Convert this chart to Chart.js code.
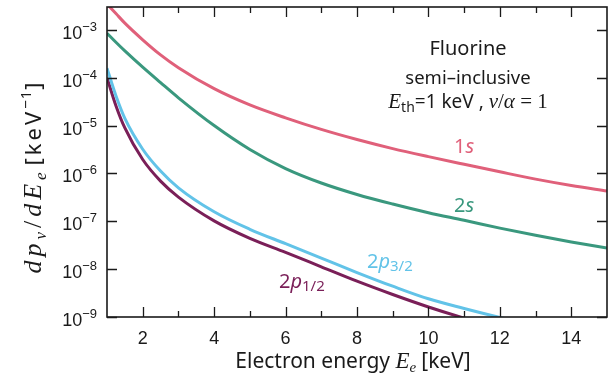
<!DOCTYPE html>
<html>
<head>
<meta charset="utf-8">
<script src="https://cdn.jsdelivr.net/npm/chart.js@4.4.1/dist/chart.umd.min.js"></script>
<style>
  html, body { margin: 0; padding: 0; background: #ffffff; }
  #wrap { width: 611px; height: 386px; }
</style>
</head>
<body>
<div id="wrap"><canvas id="c" width="611" height="386"></canvas></div>
<script>
// Electron energy grid [keV]
const energy = [1, 1.25, 1.5, 2, 2.5, 3, 4, 5, 6, 7, 8, 9, 10, 11, 12, 13, 14, 15];

// dp_v/dE_e [keV^-1] for each fluorine shell
const shell1s   = [3.47e-3, 2.19e-3, 1.38e-3, 6.2e-4, 3.0e-4, 1.62e-4, 5.9e-5, 2.7e-5, 1.45e-5, 8.3e-6, 5.1e-6, 3.3e-6, 2.24e-6, 1.55e-6, 1.08e-6, 7.6e-7, 5.6e-7, 4.3e-7];
const shell2s   = [8.5e-4, 5.5e-4, 3.63e-4, 1.66e-4, 7.9e-5, 3.8e-5, 1.0e-5, 3.16e-6, 1.26e-6, 6.3e-7, 3.63e-7, 2.29e-7, 1.51e-7, 1.05e-7, 7.2e-8, 5.1e-8, 3.7e-8, 2.75e-8];
const shell2p32 = [1.58e-4, 4.2e-5, 1.41e-5, 3.2e-6, 1.12e-6, 5.0e-7, 1.58e-7, 6.8e-8, 3.4e-8, 1.70e-8, 8.5e-9, 4.4e-9, 2.4e-9, 1.51e-9, 9.8e-10, 6.6e-10, 4.6e-10, 3.2e-10];
const shell2p12 = [1.0e-4, 2.6e-5, 8.9e-6, 1.95e-6, 6.9e-7, 3.2e-7, 1.02e-7, 4.4e-8, 2.24e-8, 1.12e-8, 5.6e-9, 2.95e-9, 1.62e-9, 9.5e-10, 6.0e-10, 4.1e-10, 2.8e-10, 2.0e-10];

// Axis ticks
const xTicks = [2, 3, 4, 5, 6, 7, 8, 9, 10, 11, 12, 13, 14];
const yTickExponents = [-9, -8, -7, -6, -5, -4, -3];

const COLORS = {
  s1: '#e0607a',
  s2: '#3a987e',
  p32: '#62c3e8',
  p12: '#7a1f58'
};
const INK = '#1a1a1a';

function series(values) {
  return energy.map((e, i) => ({ x: e, y: values[i] }));
}

function lineDataset(label, values, color) {
  return {
    label: label,
    data: series(values),
    borderColor: color,
    backgroundColor: color,
    borderWidth: 3,
    pointRadius: 0,
    cubicInterpolationMode: 'monotone',
    clip: 0
  };
}

// Draw a run of text pieces with individual fonts / offsets / letter spacing
function drawRich(ctx, pieces, x, y, align, color) {
  let total = 0;
  pieces.forEach(p => {
    ctx.font = p.font;
    ctx.letterSpacing = p.ls || '0px';
    p.w = ctx.measureText(p.text).width;
    total += p.w + (p.gap || 0);
  });
  let cx = align === 'center' ? x - total / 2 : (align === 'right' ? x - total : x);
  ctx.fillStyle = color;
  ctx.textAlign = 'left';
  ctx.textBaseline = 'alphabetic';
  pieces.forEach(p => {
    ctx.font = p.font;
    ctx.letterSpacing = p.ls || '0px';
    ctx.fillText(p.text, cx, y + (p.dy || 0));
    cx += p.w + (p.gap || 0);
  });
  ctx.letterSpacing = '0px';
}

const SANS = '"Liberation Sans", Arial, sans-serif';
const LSANS = '"Noto Sans", "Liberation Sans", sans-serif';
const MATH = '"Liberation Serif", "DejaVu Serif", serif';

const framePlugin = {
  id: 'frameAndLabels',
  afterDatasetsDraw(chart) {
    const ctx = chart.ctx;
    const a = chart.chartArea;
    const xs = chart.scales.x, ys = chart.scales.y;
    ctx.save();
    ctx.strokeStyle = INK;
    ctx.lineWidth = 1.6;
    ctx.strokeRect(a.left, a.top, a.right - a.left, a.bottom - a.top);

    // inward ticks on all four sides
    ctx.lineWidth = 1.3;
    ctx.beginPath();
    xTicks.forEach(v => {
      const px = Math.round(xs.getPixelForValue(v)) + 0.5;
      const len = v % 2 === 0 ? 10 : 6;
      ctx.moveTo(px, a.bottom); ctx.lineTo(px, a.bottom - len);
      ctx.moveTo(px, a.top); ctx.lineTo(px, a.top + len);
    });
    yTickExponents.forEach(e => {
      const py = Math.round(ys.getPixelForValue(Math.pow(10, e))) + 0.5;
      ctx.moveTo(a.left, py); ctx.lineTo(a.left + 10, py);
      ctx.moveTo(a.right, py); ctx.lineTo(a.right - 10, py);
    });
    ctx.stroke();

    // y tick labels: 10 with raised exponent
    yTickExponents.forEach(e => {
      const py = ys.getPixelForValue(Math.pow(10, e));
      drawRich(ctx, [
        { text: '10', font: '18px ' + SANS },
        { text: '\u2212' + Math.abs(e), font: '13px ' + SANS, dy: -8 }
      ], a.left - 10, py + 9, 'right', INK);
    });

    // info block
    drawRich(ctx, [{ text: 'Fluorine', font: '20px ' + LSANS }], 468, 55, 'center', INK);
    drawRich(ctx, [{ text: 'semi\u2013inclusive', font: '18.5px ' + LSANS }], 468, 84, 'center', INK);
    drawRich(ctx, [
      { text: 'E', font: 'italic 21px ' + MATH },
      { text: 'th', font: '14px ' + LSANS, dy: 4 },
      { text: '=1 keV , ', font: '19px ' + LSANS },
      { text: 'v', font: 'italic 21px ' + MATH },
      { text: '/', font: '21px ' + MATH },
      { text: '\u03b1', font: 'italic 21px ' + MATH },
      { text: ' = 1', font: '21px ' + MATH }
    ], 468, 108, 'center', INK);

    // curve labels
    drawRich(ctx, [{ text: '1', font: '20px ' + LSANS }, { text: 's', font: 'italic 20px ' + LSANS }], 464, 153, 'center', COLORS.s1);
    drawRich(ctx, [{ text: '2', font: '20px ' + LSANS }, { text: 's', font: 'italic 20px ' + LSANS }], 464, 212, 'center', COLORS.s2);
    drawRich(ctx, [{ text: '2', font: '20px ' + LSANS }, { text: 'p', font: 'italic 20px ' + LSANS }, { text: '3/2', font: '15px ' + LSANS, dy: 3 }], 367, 268, 'left', COLORS.p32);
    drawRich(ctx, [{ text: '2', font: '20px ' + LSANS }, { text: 'p', font: 'italic 20px ' + LSANS }, { text: '1/2', font: '15px ' + LSANS, dy: 3 }], 279, 288, 'left', COLORS.p12);

    // axis titles
    drawRich(ctx, [
      { text: 'Electron energy ', font: '21px ' + LSANS },
      { text: 'E', font: 'italic 23px ' + MATH },
      { text: 'e', font: 'italic 15px ' + MATH, dy: 4, gap: 5 },
      { text: '[keV]', font: '21px ' + LSANS }
    ], 353, 368, 'center', INK);

    ctx.save();
    ctx.translate(41, 178);
    ctx.rotate(-Math.PI / 2);
    drawRich(ctx, [
      { text: 'dp', font: 'italic 26px ' + MATH, ls: '4px' },
      { text: 'v', font: 'italic 17px ' + MATH, dy: 5, ls: '4px' },
      { text: '/', font: '26px ' + MATH, ls: '4px' },
      { text: 'dE', font: 'italic 26px ' + MATH, ls: '4px' },
      { text: 'e', font: 'italic 17px ' + MATH, dy: 5, gap: 7 },
      { text: '[keV', font: '22px ' + LSANS, ls: '3px' },
      { text: '\u22121', font: '15px ' + LSANS, dy: -10, ls: '1px' },
      { text: ']', font: '22px ' + LSANS }
    ], 0, 0, 'center', INK);
    ctx.restore();

    ctx.restore();
  }
};

new Chart(document.getElementById('c'), {
  type: 'line',
  data: {
    datasets: [
      lineDataset('1s', shell1s, COLORS.s1),
      lineDataset('2s', shell2s, COLORS.s2),
      lineDataset('2p3/2', shell2p32, COLORS.p32),
      lineDataset('2p1/2', shell2p12, COLORS.p12)
    ]
  },
  options: {
    responsive: false,
    devicePixelRatio: 1,
    animation: false,
    layout: { padding: { top: 7, right: 4, left: 0, bottom: 0 } },
    plugins: { legend: { display: false }, tooltip: { enabled: false } },
    scales: {
      x: {
        type: 'linear',
        min: 1,
        max: 15,
        afterBuildTicks: s => { s.ticks = xTicks.map(v => ({ value: v })); },
        afterFit: s => { s.height = 69; s.paddingLeft = 0; s.paddingRight = 0; },
        grid: { display: false },
        border: { display: false },
        ticks: {
          autoSkip: false,
          maxRotation: 0,
          padding: 3,
          color: INK,
          font: { family: SANS, size: 18 },
          callback: v => (v % 2 === 0 ? String(v) : '')
        }
      },
      y: {
        type: 'logarithmic',
        min: 1e-9,
        max: 3e-3,
        afterBuildTicks: s => { s.ticks = yTickExponents.map(e => ({ value: Math.pow(10, e) })); },
        afterFit: s => { s.width = 107; s.paddingTop = 0; s.paddingBottom = 0; },
        grid: { display: false },
        border: { display: false },
        ticks: { display: false }
      }
    }
  },
  plugins: [framePlugin]
});
</script>
</body>
</html>
